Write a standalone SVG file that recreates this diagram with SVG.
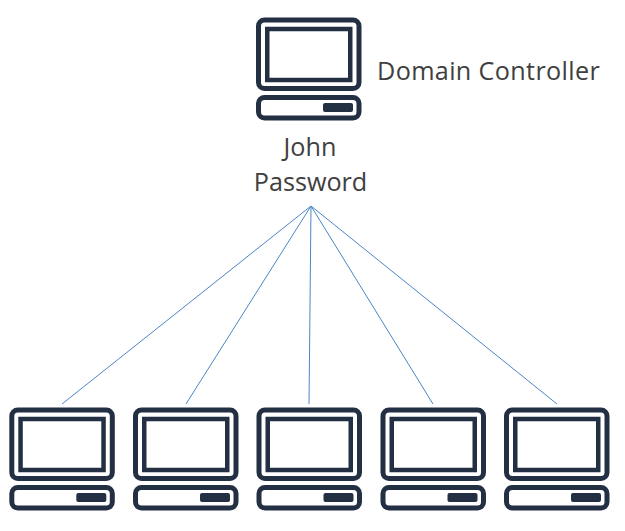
<svg xmlns="http://www.w3.org/2000/svg" width="625" height="531" viewBox="0 0 625 531">
<style>
.o{fill:none;stroke:#232f42;stroke-width:5}
.i{fill:none;stroke:#232f42;stroke-width:4.5}
.s{fill:#232f42}
.c{stroke:#4a86c5;stroke-width:1;fill:none}
.t{font-family:"Open Sans","Noto Sans",sans-serif;font-size:25.2px;fill:#404040}
</style>
<defs>
<g id="pc">
<rect class="o" x="2.5" y="2.5" width="100.5" height="68.5" rx="6"/>
<rect class="i" x="11.25" y="11.5" width="83" height="51"/>
<rect class="o" x="2.5" y="80" width="100.5" height="20.5" rx="6"/>
<rect class="s" x="67" y="85.5" width="30" height="9" rx="2"/>
</g>
</defs>
<rect width="625" height="531" fill="#fff"/>
<g id="connectors">
<line class="c" x1="311" y1="206" x2="62" y2="404"/>
<line class="c" x1="311" y1="206" x2="186" y2="404"/>
<line class="c" x1="311" y1="206" x2="309" y2="404"/>
<line class="c" x1="311" y1="206" x2="433" y2="404"/>
<line class="c" x1="311" y1="206" x2="557" y2="404"/>
</g>
<g id="dc"><use href="#pc" x="256" y="17.5"/></g>
<g id="pc1"><use href="#pc" x="9.3" y="407.5"/></g>
<g id="pc2"><use href="#pc" x="133" y="407.5"/></g>
<g id="pc3"><use href="#pc" x="256.5" y="407.5"/></g>
<g id="pc4"><use href="#pc" x="380.5" y="407.5"/></g>
<g id="pc5"><use href="#pc" x="504" y="407.5"/></g>
<g id="labels">
<text class="t" x="377" y="80" letter-spacing="0.35">Domain Controller</text>
<text class="t" x="310" y="156" text-anchor="middle">John</text>
<text class="t" x="310.5" y="191" text-anchor="middle">Password</text>
</g>
</svg>
